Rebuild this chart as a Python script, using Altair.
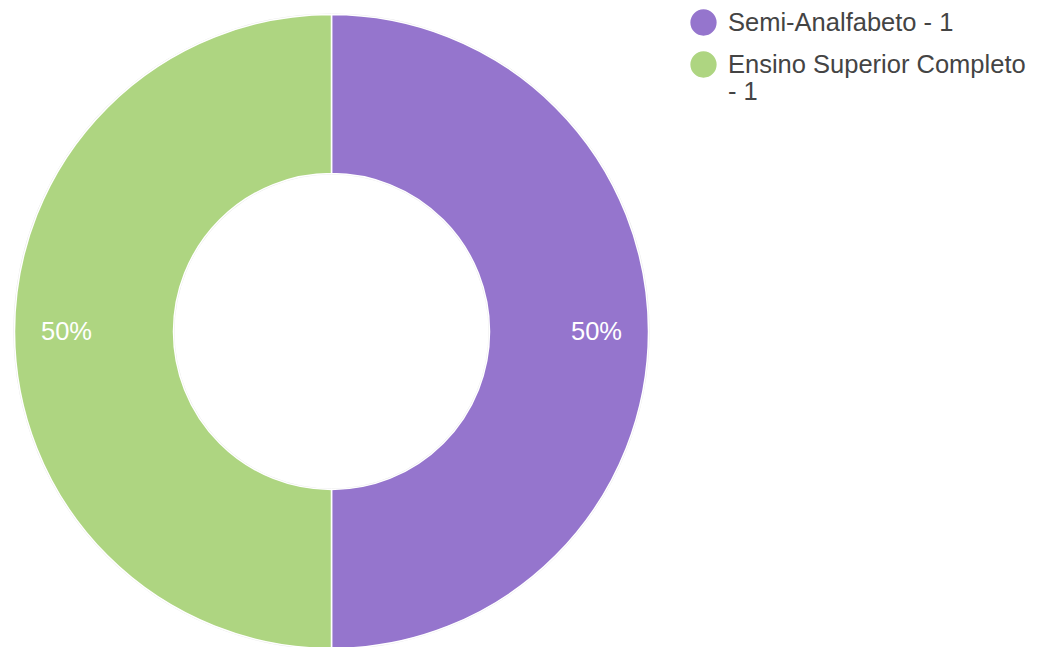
import altair as alt
import pandas as pd

categories = ["Semi-Analfabeto", "Ensino Superior Completo"]
counts = [1, 1]
colors = ["#9575cd", "#aed581"]

df = pd.DataFrame({"cat": categories, "count": counts, "idx": list(range(len(categories)))})

base = alt.Chart(df).transform_joinaggregate(
    total="sum(count)"
).transform_calculate(
    label="datum.cat + ' - ' + datum.count",
    pct="format(datum.count / datum.total, '.0%')"
)

color = alt.Color(
    "label:N",
    scale=alt.Scale(domain=[f"{c} - {n}" for c, n in zip(categories, counts)], range=colors),
    legend=alt.Legend(
        title=None,
        orient="none",
        legendX=682,
        legendY=1,
        symbolType="circle",
        symbolSize=690,
        symbolStrokeWidth=0,
        symbolOpacity=1,
        labelFont="Liberation Sans",
        labelFontSize=25.5,
        labelColor="#444444",
        labelLimit=400,
        labelOffset=11,
        rowPadding=15,
        labelExpr="datum.label == 'Ensino Superior Completo - 1' ? ['Ensino Superior Completo', '- 1'] : datum.label",
    ),
)

cx, cy = 323.5, 323.5

outline = base.mark_arc(
    outerRadius=318, innerRadius=157, color="#e6e6e6"
).encode(
    theta=alt.Theta("count:Q", stack=True),
    order=alt.Order("idx:Q"),
    x=alt.value(cx),
    y=alt.value(cy),
)

arc = base.mark_arc(
    outerRadius=317, innerRadius=158, stroke="white", strokeWidth=1.5
).encode(
    theta=alt.Theta("count:Q", stack=True),
    color=color,
    order=alt.Order("idx:Q"),
    x=alt.value(cx),
    y=alt.value(cy),
)

text = base.mark_text(
    radius=265, font="Liberation Sans", fontSize=25.5, color="white"
).encode(
    theta=alt.Theta("count:Q", stack=True),
    text="pct:N",
    order=alt.Order("idx:Q"),
    x=alt.value(cx),
    y=alt.value(cy),
)

chart = alt.layer(outline, arc, text).properties(
    width=1023, height=639, padding=0, autosize="none"
).configure_view(stroke=None)

chart.save("out.html", embed_options={"renderer": "svg", "actions": False})
